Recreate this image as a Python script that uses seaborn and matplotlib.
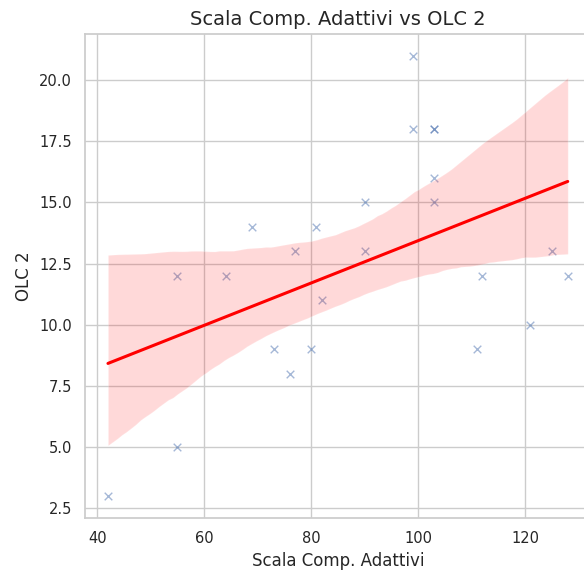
import numpy as np
import pandas as pd
import matplotlib
matplotlib.use("Agg")
import matplotlib.pyplot as plt
import seaborn as sns

scala_comp_adattivi = [42, 55, 55, 64, 69, 73, 76, 77, 80, 81, 82, 90, 90,
                       99, 99, 103, 103, 103, 103, 111, 112, 121, 125, 128]
olc_2 = [3, 5, 12, 12, 14, 9, 8, 13, 9, 14, 11, 15, 13,
         21, 18, 18, 18, 16, 15, 9, 12, 10, 13, 12]

df = pd.DataFrame({"Scala Comp. Adattivi": scala_comp_adattivi, "OLC 2": olc_2})

sns.set_theme(style="whitegrid")
fig = plt.figure(figsize=(5.84, 5.71), dpi=100)
ax = fig.add_axes([0.1455, 0.0928, 0.866, 0.8485])

sns.regplot(data=df, x="Scala Comp. Adattivi", y="OLC 2", ax=ax, marker="x",
            seed=1,
            scatter_kws={"alpha": 0.5, "s": 30, "linewidths": 1},
            line_kws={"color": "red", "linewidth": 2.2})

ax.set_title("Scala Comp. Adattivi vs OLC 2", fontsize=14)
ax.set_xlabel("Scala Comp. Adattivi", fontsize=12)
ax.set_ylabel("OLC 2", fontsize=12)
ax.tick_params(labelsize=10.5)

fig.savefig("out.png", dpi=100)
